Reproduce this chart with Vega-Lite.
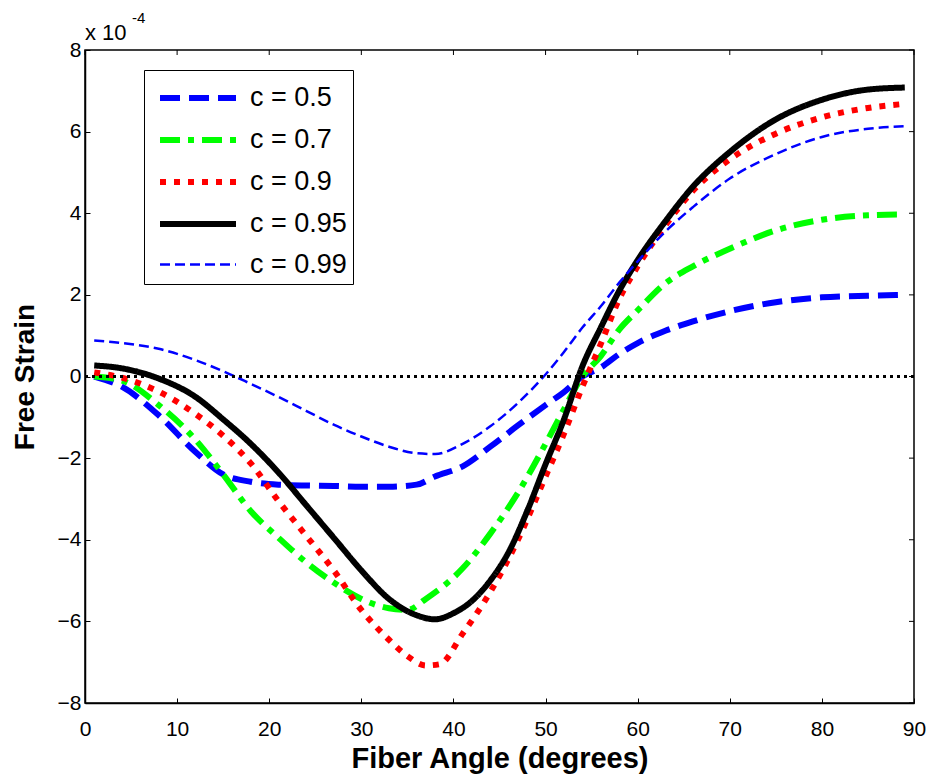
{
  "$schema": "https://vega.github.io/schema/vega-lite/v6.json",
  "autosize": {"type": "none"},
  "width": 829,
  "height": 653,
  "padding": {"left": 85, "top": 50, "right": 16, "bottom": 73},
  "background": "white",
  "config": {
    "view": {"stroke": "black", "strokeWidth": 1.5},
    "font": "Liberation Sans",
    "axis": {
      "grid": false,
      "domainColor": "black",
      "domainWidth": 1.5,
      "tickColor": "black",
      "tickWidth": 1,
      "tickSize": -5,
      "labelColor": "black",
      "titleColor": "black",
      "labelFont": "Liberation Sans",
      "titleFont": "Liberation Sans",
      "labelFontSize": 21,
      "titleFontSize": 28,
      "titleFontWeight": "bold",
      "labelFlush": false
    }
  },
  "datasets": {
    "one": [{}],
    "xticks": [{"tx": 0}, {"tx": 10}, {"tx": 20}, {"tx": 30}, {"tx": 40}, {"tx": 50}, {"tx": 60}, {"tx": 70}, {"tx": 80}, {"tx": 90}],
    "yticks": [{"ty": -8}, {"ty": -6}, {"ty": -4}, {"ty": -2}, {"ty": 0}, {"ty": 2}, {"ty": 4}, {"ty": 6}, {"ty": 8}],
    "curves": [
      {"series": "c = 0.5", "angle": 1, "strain": 0.0},
      {"series": "c = 0.5", "angle": 4, "strain": -0.25},
      {"series": "c = 0.5", "angle": 8, "strain": -0.95},
      {"series": "c = 0.5", "angle": 12, "strain": -1.85},
      {"series": "c = 0.5", "angle": 15, "strain": -2.4},
      {"series": "c = 0.5", "angle": 18, "strain": -2.58},
      {"series": "c = 0.5", "angle": 21, "strain": -2.65},
      {"series": "c = 0.5", "angle": 24, "strain": -2.67},
      {"series": "c = 0.5", "angle": 27, "strain": -2.68},
      {"series": "c = 0.5", "angle": 30, "strain": -2.7},
      {"series": "c = 0.5", "angle": 33, "strain": -2.7},
      {"series": "c = 0.5", "angle": 36, "strain": -2.65},
      {"series": "c = 0.5", "angle": 38, "strain": -2.45},
      {"series": "c = 0.5", "angle": 41, "strain": -2.2},
      {"series": "c = 0.5", "angle": 44, "strain": -1.72},
      {"series": "c = 0.5", "angle": 47, "strain": -1.2},
      {"series": "c = 0.5", "angle": 50, "strain": -0.7},
      {"series": "c = 0.5", "angle": 52, "strain": -0.38},
      {"series": "c = 0.5", "angle": 54, "strain": 0.0},
      {"series": "c = 0.5", "angle": 56, "strain": 0.22},
      {"series": "c = 0.5", "angle": 58, "strain": 0.55},
      {"series": "c = 0.5", "angle": 60, "strain": 0.82},
      {"series": "c = 0.5", "angle": 63, "strain": 1.12},
      {"series": "c = 0.5", "angle": 66, "strain": 1.35},
      {"series": "c = 0.5", "angle": 70, "strain": 1.6},
      {"series": "c = 0.5", "angle": 75, "strain": 1.82},
      {"series": "c = 0.5", "angle": 80, "strain": 1.94},
      {"series": "c = 0.5", "angle": 85, "strain": 1.98},
      {"series": "c = 0.5", "angle": 89, "strain": 2.0},

      {"series": "c = 0.7", "angle": 1, "strain": 0.0},
      {"series": "c = 0.7", "angle": 4, "strain": -0.1},
      {"series": "c = 0.7", "angle": 8, "strain": -0.7},
      {"series": "c = 0.7", "angle": 12, "strain": -1.55},
      {"series": "c = 0.7", "angle": 15, "strain": -2.4},
      {"series": "c = 0.7", "angle": 18, "strain": -3.3},
      {"series": "c = 0.7", "angle": 21, "strain": -3.95},
      {"series": "c = 0.7", "angle": 24, "strain": -4.55},
      {"series": "c = 0.7", "angle": 27, "strain": -5.05},
      {"series": "c = 0.7", "angle": 30, "strain": -5.45},
      {"series": "c = 0.7", "angle": 33, "strain": -5.68},
      {"series": "c = 0.7", "angle": 35, "strain": -5.72},
      {"series": "c = 0.7", "angle": 37, "strain": -5.45},
      {"series": "c = 0.7", "angle": 41, "strain": -4.7},
      {"series": "c = 0.7", "angle": 44, "strain": -3.85},
      {"series": "c = 0.7", "angle": 47, "strain": -2.85},
      {"series": "c = 0.7", "angle": 50, "strain": -1.65},
      {"series": "c = 0.7", "angle": 52, "strain": -0.8},
      {"series": "c = 0.7", "angle": 54, "strain": 0.0},
      {"series": "c = 0.7", "angle": 56, "strain": 0.5},
      {"series": "c = 0.7", "angle": 58, "strain": 1.15},
      {"series": "c = 0.7", "angle": 60, "strain": 1.62},
      {"series": "c = 0.7", "angle": 63, "strain": 2.28},
      {"series": "c = 0.7", "angle": 66, "strain": 2.7},
      {"series": "c = 0.7", "angle": 70, "strain": 3.13},
      {"series": "c = 0.7", "angle": 75, "strain": 3.58},
      {"series": "c = 0.7", "angle": 80, "strain": 3.84},
      {"series": "c = 0.7", "angle": 85, "strain": 3.95},
      {"series": "c = 0.7", "angle": 89, "strain": 3.97},

      {"series": "c = 0.9", "angle": 1, "strain": 0.1},
      {"series": "c = 0.9", "angle": 4, "strain": -0.03},
      {"series": "c = 0.9", "angle": 8, "strain": -0.37},
      {"series": "c = 0.9", "angle": 12, "strain": -0.92},
      {"series": "c = 0.9", "angle": 15, "strain": -1.45},
      {"series": "c = 0.9", "angle": 18, "strain": -2.13},
      {"series": "c = 0.9", "angle": 21, "strain": -3.05},
      {"series": "c = 0.9", "angle": 24, "strain": -3.9},
      {"series": "c = 0.9", "angle": 27, "strain": -4.75},
      {"series": "c = 0.9", "angle": 30, "strain": -5.72},
      {"series": "c = 0.9", "angle": 33, "strain": -6.45},
      {"series": "c = 0.9", "angle": 35, "strain": -6.85},
      {"series": "c = 0.9", "angle": 37, "strain": -7.08},
      {"series": "c = 0.9", "angle": 38.5, "strain": -7.05},
      {"series": "c = 0.9", "angle": 41, "strain": -6.3},
      {"series": "c = 0.9", "angle": 44, "strain": -5.28},
      {"series": "c = 0.9", "angle": 47, "strain": -4.0},
      {"series": "c = 0.9", "angle": 50, "strain": -2.45},
      {"series": "c = 0.9", "angle": 52, "strain": -1.4},
      {"series": "c = 0.9", "angle": 54, "strain": -0.25},
      {"series": "c = 0.9", "angle": 56, "strain": 0.8},
      {"series": "c = 0.9", "angle": 58, "strain": 1.9},
      {"series": "c = 0.9", "angle": 60, "strain": 2.7},
      {"series": "c = 0.9", "angle": 63, "strain": 3.7},
      {"series": "c = 0.9", "angle": 66, "strain": 4.55},
      {"series": "c = 0.9", "angle": 70, "strain": 5.32},
      {"series": "c = 0.9", "angle": 75, "strain": 5.95},
      {"series": "c = 0.9", "angle": 80, "strain": 6.35},
      {"series": "c = 0.9", "angle": 85, "strain": 6.58},
      {"series": "c = 0.9", "angle": 89, "strain": 6.68},

      {"series": "c = 0.95", "angle": 1, "strain": 0.27},
      {"series": "c = 0.95", "angle": 4, "strain": 0.2},
      {"series": "c = 0.95", "angle": 8, "strain": -0.05},
      {"series": "c = 0.95", "angle": 12, "strain": -0.5},
      {"series": "c = 0.95", "angle": 15, "strain": -1.05},
      {"series": "c = 0.95", "angle": 18, "strain": -1.65},
      {"series": "c = 0.95", "angle": 21, "strain": -2.35},
      {"series": "c = 0.95", "angle": 24, "strain": -3.15},
      {"series": "c = 0.95", "angle": 27, "strain": -3.95},
      {"series": "c = 0.95", "angle": 30, "strain": -4.75},
      {"series": "c = 0.95", "angle": 33, "strain": -5.45},
      {"series": "c = 0.95", "angle": 36, "strain": -5.85},
      {"series": "c = 0.95", "angle": 38, "strain": -5.95},
      {"series": "c = 0.95", "angle": 40, "strain": -5.8},
      {"series": "c = 0.95", "angle": 42, "strain": -5.5},
      {"series": "c = 0.95", "angle": 44, "strain": -5.0},
      {"series": "c = 0.95", "angle": 46, "strain": -4.3},
      {"series": "c = 0.95", "angle": 48, "strain": -3.3},
      {"series": "c = 0.95", "angle": 50, "strain": -2.15},
      {"series": "c = 0.95", "angle": 52, "strain": -1.05},
      {"series": "c = 0.95", "angle": 54, "strain": 0.25},
      {"series": "c = 0.95", "angle": 56, "strain": 1.2},
      {"series": "c = 0.95", "angle": 58, "strain": 2.1},
      {"series": "c = 0.95", "angle": 60, "strain": 2.85},
      {"series": "c = 0.95", "angle": 63, "strain": 3.8},
      {"series": "c = 0.95", "angle": 66, "strain": 4.65},
      {"series": "c = 0.95", "angle": 70, "strain": 5.5},
      {"series": "c = 0.95", "angle": 75, "strain": 6.3},
      {"series": "c = 0.95", "angle": 80, "strain": 6.78},
      {"series": "c = 0.95", "angle": 85, "strain": 7.03},
      {"series": "c = 0.95", "angle": 89, "strain": 7.08},

      {"series": "c = 0.99", "angle": 1, "strain": 0.88},
      {"series": "c = 0.99", "angle": 4, "strain": 0.82},
      {"series": "c = 0.99", "angle": 8, "strain": 0.68},
      {"series": "c = 0.99", "angle": 12, "strain": 0.4},
      {"series": "c = 0.99", "angle": 15, "strain": 0.13},
      {"series": "c = 0.99", "angle": 18, "strain": -0.18},
      {"series": "c = 0.99", "angle": 21, "strain": -0.5},
      {"series": "c = 0.99", "angle": 24, "strain": -0.84},
      {"series": "c = 0.99", "angle": 27, "strain": -1.18},
      {"series": "c = 0.99", "angle": 30, "strain": -1.47},
      {"series": "c = 0.99", "angle": 33, "strain": -1.72},
      {"series": "c = 0.99", "angle": 36, "strain": -1.88},
      {"series": "c = 0.99", "angle": 38, "strain": -1.9},
      {"series": "c = 0.99", "angle": 41, "strain": -1.65},
      {"series": "c = 0.99", "angle": 44, "strain": -1.22},
      {"series": "c = 0.99", "angle": 47, "strain": -0.65},
      {"series": "c = 0.99", "angle": 50, "strain": 0.05},
      {"series": "c = 0.99", "angle": 52, "strain": 0.6},
      {"series": "c = 0.99", "angle": 54, "strain": 1.2},
      {"series": "c = 0.99", "angle": 56, "strain": 1.72},
      {"series": "c = 0.99", "angle": 58, "strain": 2.3},
      {"series": "c = 0.99", "angle": 60, "strain": 2.82},
      {"series": "c = 0.99", "angle": 63, "strain": 3.55},
      {"series": "c = 0.99", "angle": 66, "strain": 4.15},
      {"series": "c = 0.99", "angle": 70, "strain": 4.85},
      {"series": "c = 0.99", "angle": 75, "strain": 5.45},
      {"series": "c = 0.99", "angle": 80, "strain": 5.87},
      {"series": "c = 0.99", "angle": 85, "strain": 6.07},
      {"series": "c = 0.99", "angle": 89, "strain": 6.13}
    ]
  },
  "layer": [
    {
      "data": {"name": "curves"},
      "mark": {"type": "line", "interpolate": "monotone", "strokeCap": "butt", "clip": true},
      "encoding": {
        "x": {
          "field": "angle", "type": "quantitative", "title": "Fiber Angle (degrees)",
          "scale": {"domain": [0, 90], "nice": false, "zero": false},
          "axis": {"title": "Fiber Angle (degrees)", "values": [0,10,20,30,40,50,60,70,80,90], "labelPadding": 20, "titlePadding": 5, "titleFontSize": 29}
        },
        "y": {
          "field": "strain", "type": "quantitative", "title": "Free Strain",
          "scale": {"domain": [-8, 8], "nice": false, "zero": false},
          "axis": {"title": "Free Strain", "values": [-8,-6,-4,-2,0,2,4,6,8], "labelPadding": 9, "titlePadding": 18}
        },
        "color": {
          "field": "series", "type": "nominal",
          "scale": {"domain": ["c = 0.5", "c = 0.7", "c = 0.9", "c = 0.95", "c = 0.99"], "range": ["#0000ff", "#00ff00", "#ff0000", "#000000", "#0000ff"]},
          "legend": {
            "title": null, "orient": "none", "legendX": 59, "legendY": 20,
            "symbolType": "M-2,0H2", "symbolSize": 1444, "symbolOffset": 26,
            "labelFontSize": 27, "labelFont": "Liberation Sans", "labelColor": "black",
            "strokeColor": "black", "fillColor": "white", "padding": 6,
            "rowPadding": 7, "labelOffset": 30
          }
        },
        "strokeDash": {
          "field": "series", "type": "nominal",
          "scale": {"domain": ["c = 0.5", "c = 0.7", "c = 0.9", "c = 0.95", "c = 0.99"], "range": [[20, 9], [20, 8, 6, 8], [6, 8], [1, 0], [10, 5]]},
          "legend": null
        },
        "strokeWidth": {
          "field": "series", "type": "ordinal",
          "scale": {"type": "ordinal", "domain": ["c = 0.5", "c = 0.7", "c = 0.9", "c = 0.95", "c = 0.99"], "range": [6, 6, 6, 6, 2.5]},
          "legend": null
        },
        "order": {"field": "angle", "type": "quantitative"}
      }
    },
    {
      "data": {"name": "one"},
      "mark": {"type": "rule", "strokeDash": [3, 4], "strokeWidth": 3, "color": "black"},
      "encoding": {
        "y": {"datum": 0, "type": "quantitative"}
      }
    },
    {
      "data": {"name": "xticks"},
      "mark": {"type": "tick", "orient": "vertical", "size": 5, "thickness": 1, "color": "black", "opacity": 1, "yOffset": 2.5},
      "encoding": {
        "x": {"field": "tx", "type": "quantitative", "title": "Fiber Angle (degrees)"},
        "y": {"datum": 8, "type": "quantitative"}
      }
    },
    {
      "data": {"name": "yticks"},
      "mark": {"type": "tick", "orient": "horizontal", "size": 5, "thickness": 1, "color": "black", "opacity": 1, "xOffset": -2.5},
      "encoding": {
        "y": {"field": "ty", "type": "quantitative", "title": "Free Strain"},
        "x": {"datum": 90, "type": "quantitative"}
      }
    },
    {
      "data": {"name": "one"},
      "mark": {"type": "text", "align": "left", "baseline": "alphabetic", "font": "Liberation Sans", "color": "black", "dy": -10},
      "encoding": {
        "x": {"datum": 0, "type": "quantitative"},
        "y": {"datum": 8, "type": "quantitative"},
        "text": {"value": "x 10"},
        "size": {"value": 22}
      }
    },
    {
      "data": {"name": "one"},
      "mark": {"type": "text", "align": "left", "baseline": "alphabetic", "font": "Liberation Sans", "color": "black", "dx": 47, "dy": -27},
      "encoding": {
        "x": {"datum": 0, "type": "quantitative"},
        "y": {"datum": 8, "type": "quantitative"},
        "text": {"value": "-4"},
        "size": {"value": 15}
      }
    }
  ]
}
